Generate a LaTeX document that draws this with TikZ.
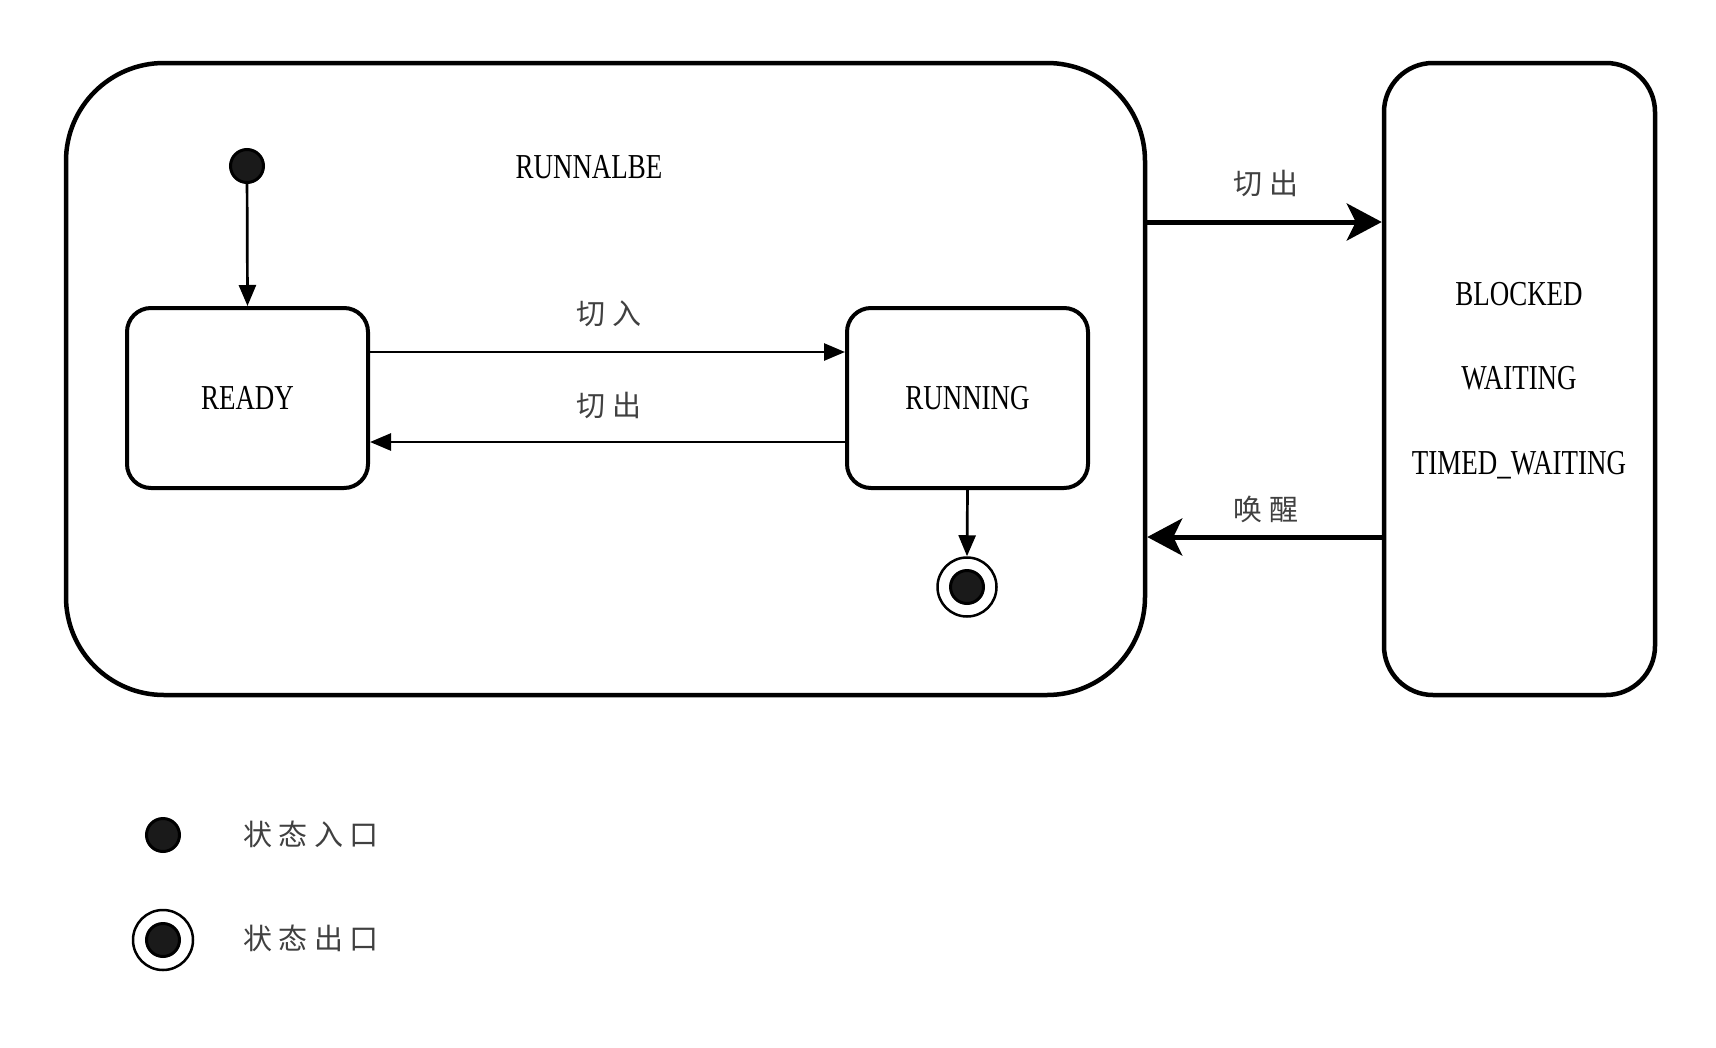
\documentclass[tikz,border=0pt]{standalone}
\usepackage{fontspec}
\setmainfont{Liberation Serif}[FakeStretch=0.77]
\newfontfamily\cjk{Noto Sans CJK SC}[LetterSpace=22]
\usetikzlibrary{arrows.meta}
\definecolor{dotfill}{HTML}{1A1A1A}
\tikzset{
  statebox/.style={draw, line width=4pt, rounded corners=24pt, minimum width=241pt, minimum height=180pt, font=\fontsize{35}{42}\selectfont},
  bigbox/.style={draw, line width=4.5pt, minimum height=632pt},
  initdot/.style={circle, draw, line width=3pt, fill=dotfill, minimum size=33pt, inner sep=0pt},
  finring/.style={circle, draw, line width=2.5pt, fill=white, minimum size=59pt, inner sep=0pt},
  thinarrow/.style={line width=2.7pt, -{Triangle[length=21pt,width=17pt]}},
  bigarrow/.style={line width=5pt, -{Stealth[length=35pt,width=37pt,inset=9pt]}},
  cjklabel/.style={font=\fontsize{29}{33}\selectfont\cjk, text=black!75},
  latlabel/.style={font=\fontsize{35}{42}\selectfont},
}
\begin{document}
\begin{tikzpicture}[x=1pt,y=-1pt]
\useasboundingbox (0,0) rectangle (1716,1047);
% containers
\node[bigbox, rounded corners=98pt, minimum width=1079pt] (outer) at (605.5,379) {};
\node[bigbox, rounded corners=49pt, minimum width=271pt] (blocked) at (1519.5,379) {};
\node[latlabel] (runnable) at (589,167) {RUNNALBE};
\node[latlabel] (tb) at (1519,294) {BLOCKED};
\node[latlabel] (tw) at (1519,378) {WAITING};
\node[latlabel] (ttw) at (1519,465) {TIMED\_WAITING};
% states
\node[statebox] (ready) at (247.5,398) {READY};
\node[statebox] (running) at (967.5,398) {RUNNING};
\node[initdot] (init) at (247,166) {};
\node[finring] (final) at (967,587) {};
\node[initdot] (finaldot) at (967,587) {};
% connectors
\draw[thinarrow] (init) -- (ready.north);
\draw[thinarrow] ([yshift=46pt]ready.east) -- ([yshift=46pt]running.west);
\draw[thinarrow] ([yshift=-44pt]running.west) -- ([yshift=-44pt]ready.east);
\draw[thinarrow] (running.south) -- (final.north);
\draw[bigarrow] ([yshift=157pt]outer.east) -- ([yshift=157pt]blocked.west);
\draw[bigarrow] ([yshift=-158pt]blocked.west) -- ([yshift=-158pt]outer.east);
% labels
\node[cjklabel] (lin) at (609,314) {切入};
\node[cjklabel] (lout) at (609,405) {切出};
\node[cjklabel] (lout2) at (1266,183) {切出};
\node[cjklabel] (lwake) at (1266,509) {唤醒};
% legend
\node[initdot] (legin) at (163,835) {};
\node[cjklabel, anchor=west] (legintext) at (240,834) {状态入口};
\node[finring, minimum size=60pt] (legout) at (163,940) {};
\node[initdot] (legoutdot) at (163,940) {};
\node[cjklabel, anchor=west] (legouttext) at (240,938) {状态出口};
\end{tikzpicture}
\end{document}
